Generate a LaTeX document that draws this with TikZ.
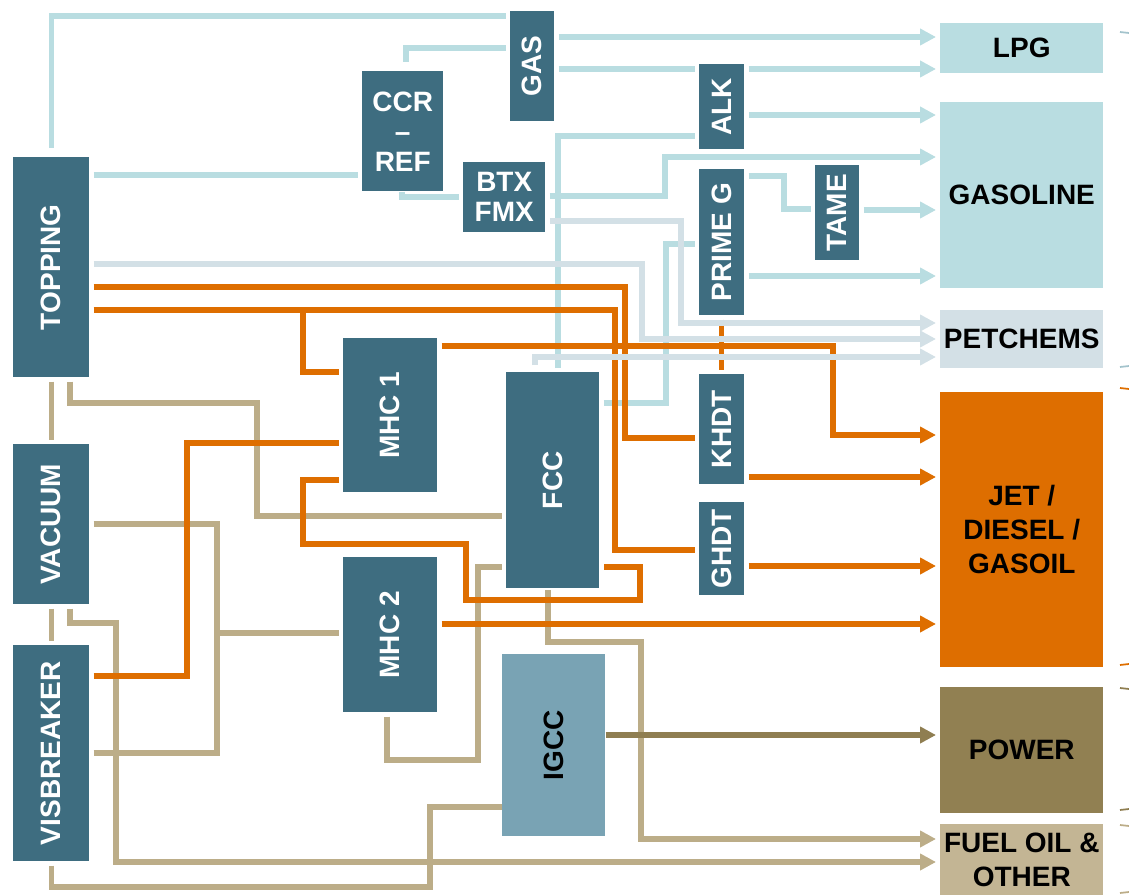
\documentclass[tikz,border=0pt]{standalone}
\usepackage{fontspec}
\setmainfont{Liberation Sans}
\usetikzlibrary{arrows.meta}
\definecolor{boxblue}{HTML}{3E6D80}
\definecolor{lblue}{HTML}{B9DDE1}
\definecolor{pgrey}{HTML}{D3E0E6}
\definecolor{orng}{HTML}{DE6E00}
\definecolor{tanc}{HTML}{BCAD88}
\definecolor{khaki}{HTML}{8F7E51}
\definecolor{fuelc}{HTML}{C3B594}
\definecolor{powc}{HTML}{918052}
\definecolor{igccc}{HTML}{79A3B4}
\definecolor{tickb}{HTML}{A3C3CC}
\begin{document}
\begin{tikzpicture}[x=0.75pt,y=-0.75pt,
  box/.style={fill=boxblue,text=white,inner sep=0pt,anchor=north west,
    font=\bfseries\fontsize{21}{22.5}\selectfont,align=center},
  tgt/.style={inner sep=0pt,anchor=north west,text=black,minimum width=122.25pt,
    font=\bfseries\fontsize{21}{25.5}\selectfont,align=center},
  ln/.style={line width=4pt,shorten <=3pt,shorten >=3pt},
  lb/.style={ln,draw=lblue},
  pg/.style={ln,draw=pgrey},
  og/.style={ln,draw=orng},
  tn/.style={ln,draw=tanc},
  kh/.style={ln,draw=khaki},
  arr/.style={-{Triangle[length=12pt,width=12pt]}},
  tick/.style={line width=1.3pt}
]
\useasboundingbox (0,0) rectangle (1129,895);

% ---------- process units ----------
\node[box,minimum width=57pt,minimum height=165pt] (top) at (13,157) {\rotatebox{90}{TOPPING}};
\node[box,minimum width=57pt,minimum height=120pt] (vac) at (13,444) {\rotatebox{90}{VACUUM}};
\node[box,minimum width=57pt,minimum height=162pt] (vis) at (13,645) {\rotatebox{90}{VISBREAKER}};
\node[box,minimum width=60.75pt,minimum height=90pt] (ccr) at (362,71) {CCR\\–\\REF};
\node[box,minimum width=33pt,minimum height=82.5pt] (gas) at (510,11) {\rotatebox{90}{GAS}};
\node[box,minimum width=61.5pt,minimum height=52.5pt] (btx) at (463,162) {BTX\\FMX};
\node[box,minimum width=33.75pt,minimum height=63.75pt] (alk) at (699,64) {\rotatebox{90}{ALK}};
\node[box,minimum width=33.75pt,minimum height=109.5pt] (prg) at (699,169) {\rotatebox{90}{PRIME G}};
\node[box,minimum width=33pt,minimum height=71.25pt] (tame) at (815,165) {\rotatebox{90}{TAME}};
\node[box,minimum width=33.75pt,minimum height=82.5pt] (khdt) at (699,374) {\rotatebox{90}{KHDT}};
\node[box,minimum width=33.75pt,minimum height=69.75pt] (ghdt) at (699,502) {\rotatebox{90}{GHDT}};
\node[box,minimum width=70.5pt,minimum height=115.5pt] (mhc1) at (343,338) {\rotatebox{90}{MHC 1}};
\node[box,minimum width=70.5pt,minimum height=116.25pt] (mhc2) at (343,557) {\rotatebox{90}{MHC 2}};
\node[box,minimum width=69.75pt,minimum height=162pt] (fcc) at (506,372) {\rotatebox{90}{FCC}};
\node[box,fill=igccc,text=black,minimum width=77.25pt,minimum height=136.5pt] (igcc) at (502,654) {\rotatebox{90}{IGCC}};

% ---------- products ----------
\node[tgt,fill=lblue,minimum height=37.5pt] (lpg) at (940,23) {LPG};
\node[tgt,fill=lblue,minimum height=139.5pt] (gasl) at (940,102) {GASOLINE};
\node[tgt,fill=pgrey,minimum height=43.5pt] (pet) at (940,310) {PETCHEMS};
\node[tgt,fill=orng,minimum height=206.25pt] (jet) at (940,392) {JET /\\DIESEL /\\GASOIL};
\node[tgt,fill=powc,minimum height=94.5pt] (pow) at (940,687) {POWER};
\node[tgt,fill=fuelc,minimum height=53.25pt] (fuel) at (940,824) {FUEL OIL \&\\OTHER};

% ---------- light blue streams ----------
\draw[lb,shorten <=7pt] (top.north) |- (gas.west |- 0,16);
\draw[lb,shorten <=7pt] (ccr.north -| 406,0) |- (gas.west |- 0,48);
\draw[lb] (top.east |- 0,175) -- (ccr.west |- 0,175);
\draw[lb,arr] (gas.east |- 0,37) -- (lpg.west |- 0,37);
\draw[lb] (gas.east |- 0,69) -- (alk.west |- 0,69);
\draw[lb,arr] (alk.east |- 0,69) -- (lpg.west |- 0,69);
\draw[lb,arr] (alk.east |- 0,115) -- (gasl.west |- 0,115);
\draw[lb] (fcc.north -| 558,0) |- (alk.west |- 0,136);
\draw[lb,arr] (btx.east |- 0,196) -| (665,157) -- (gasl.west |- 0,157);
\draw[lb,shorten <=0pt] (ccr.south -| 402,0) |- (btx.west |- 0,197);
\draw[lb] (prg.east |- 0,176) -| (784,209) -- (tame.west |- 0,209);
\draw[lb,arr] (tame.east |- 0,210) -- (gasl.west |- 0,210);
\draw[lb,arr] (prg.east |- 0,276) -- (gasl.west |- 0,276);
\draw[lb] (fcc.east |- 0,403) -| (666,244) -- (prg.west |- 0,244);

% ---------- tan streams ----------
\draw[tn] (top.south) -- (vac.north);
\draw[tn] (top.south -| 70,0) |- (257,403) |- (fcc.west |- 0,516);
\draw[tn] (vac.east |- 0,524) -| (217,633) -- (mhc2.west |- 0,633);
\draw[tn,shorten >=0pt] (vis.east |- 0,753) -| (217,633);
\draw[tn] (vac.south) -- (vis.north);
\draw[tn,arr] (vac.south -| 70,0) |- (116,623) |- (fuel.west |- 0,862);
\draw[tn,shorten >=0pt] (vis.south) |- (430,887) |- (igcc.west |- 0,807);
\draw[tn] (mhc2.south -| 387,0) |- (478,760) |- (fcc.west |- 0,567);
\draw[tn,arr,shorten <=1pt] (fcc.south -| 548,0) |- (641,642) |- (fuel.west |- 0,839);

% ---------- orange streams ----------
\draw[og] (prg.south) -- (khdt.north);
\draw[og] (top.east |- 0,287) -| (625,438) -- (khdt.west |- 0,438);
\draw[og] (top.east |- 0,310) -| (615,550) -- (ghdt.west |- 0,550);
\draw[og,shorten <=0pt] (303,310) |- (mhc1.west |- 0,372);
\draw[og,arr] (mhc1.east |- 0,346) -| (833,435) -- (jet.west |- 0,435);
\draw[og,arr] (khdt.east |- 0,477) -- (jet.west |- 0,477);
\draw[og,arr] (ghdt.east |- 0,566) -- (jet.west |- 0,566);
\draw[og,arr] (mhc2.east |- 0,624) -- (jet.west |- 0,624);
\draw[og] (vis.east |- 0,676) -| (187,443) -- (mhc1.west |- 0,443);
\draw[og] (mhc1.west |- 0,480) -| (303,544) -| (466,600) -| (640,567) -- (fcc.east |- 0,567);

% ---------- petchem streams ----------
\draw[pg,arr] (btx.east |- 0,221) -| (681,323) -- (pet.west |- 0,323);
\draw[pg,arr] (top.east |- 0,264) -| (642,339) -- (pet.west |- 0,339);
\draw[pg,arr,shorten <=5pt] (fcc.north -| 535,0) |- (pet.west |- 0,357);

% ---------- power ----------
\draw[kh,arr,shorten <=0pt] (igcc.east |- 0,735) -- (pow.west |- 0,735);

% ---------- brace fragments at right edge ----------
\draw[tick,draw=tickb] (1120,32) -- (1129,33);
\draw[tick,draw=tickb] (1120,367) -- (1129,366);
\draw[tick,draw=orng] (1120,388) -- (1129,389);
\draw[tick,draw=orng] (1120,665) -- (1129,664);
\draw[tick,draw=khaki] (1120,688) -- (1129,689);
\draw[tick,draw=khaki] (1120,810) -- (1129,809);
\draw[tick,draw=tanc] (1120,825) -- (1129,826);
\draw[tick,draw=tanc] (1120,893) -- (1129,892);
\end{tikzpicture}
\end{document}
